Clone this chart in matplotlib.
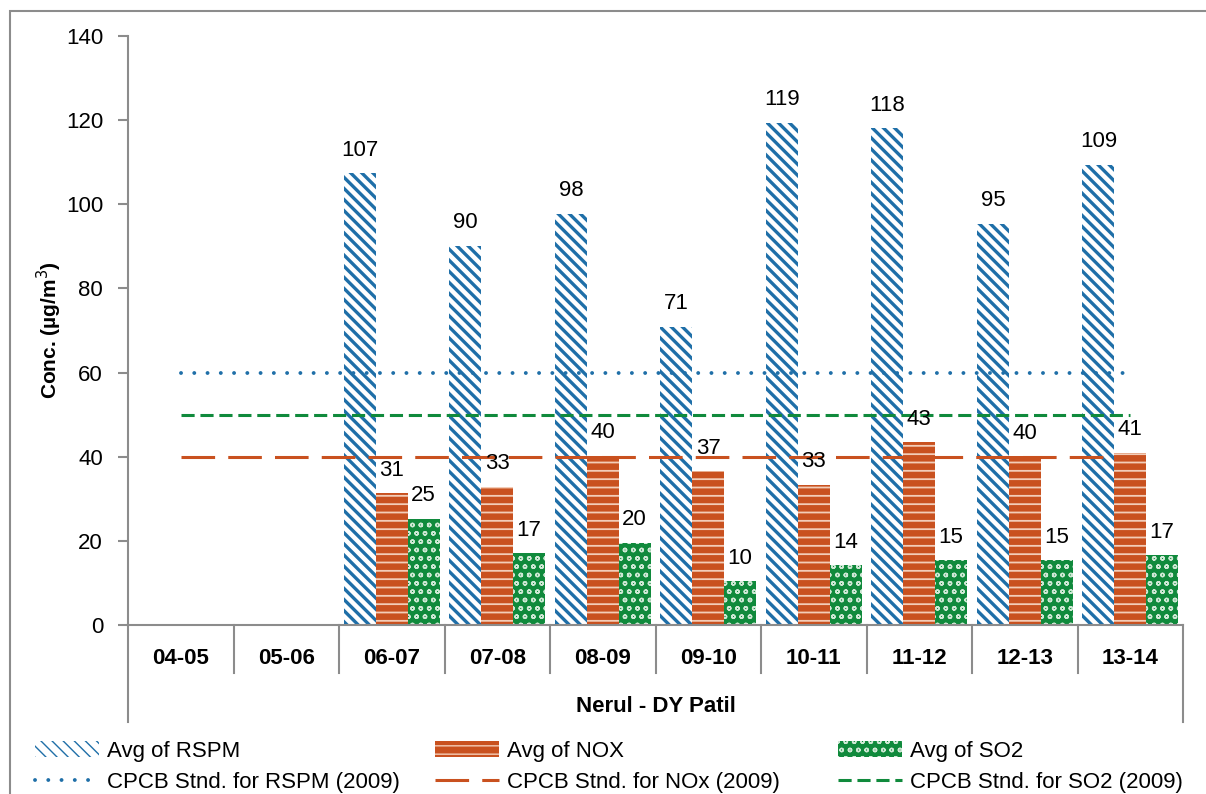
import numpy as np
import matplotlib
matplotlib.use("Agg")
import matplotlib.pyplot as plt
from matplotlib import font_manager
from matplotlib.patches import Rectangle
from matplotlib.transforms import blended_transform_factory

# data
years = ["04-05", "05-06", "06-07", "07-08", "08-09", "09-10", "10-11", "11-12", "12-13", "13-14"]
rspm = [np.nan, np.nan, 107.4, 90.2, 97.7, 70.9, 119.4, 118.1, 95.4, 109.4]
nox = [np.nan, np.nan, 31.3, 32.9, 40.2, 36.6, 33.3, 43.4, 40.1, 41.0]
so2 = [np.nan, np.nan, 25.2, 17.1, 19.6, 10.4, 14.2, 15.4, 15.4, 16.6]
std_rspm = 60
std_nox = 40
std_so2 = 50
station = "Nerul - DY Patil"

names = {f.name for f in font_manager.fontManager.ttflist}
fam = "Liberation Sans Narrow" if "Liberation Sans Narrow" in names else "Liberation Sans"
plt.rcParams["font.family"] = [fam, "DejaVu Sans"]

BLUE = "#1f6fa8"
ORANGE = "#c9511f"
GREEN = "#108a3c"
GRAY = "#8c8c8c"

fig = plt.figure(figsize=(12.06, 7.94), dpi=100)
ax = fig.add_axes([128 / 1206, 1 - 625 / 794, 1055 / 1206, 589 / 794])

x = np.arange(len(years))
w = 0.302


def set_hl(bars, lw):
    for b in bars:
        if hasattr(b, "set_hatch_linewidth"):
            b.set_hatch_linewidth(lw)


plt.rcParams["hatch.linewidth"] = 2.4
b1 = ax.bar(x - w, rspm, w, facecolor="white", edgecolor=BLUE, hatch="\\\\\\", linewidth=0,
            label="Avg of RSPM")
set_hl(b1, 2.4)
plt.rcParams["hatch.linewidth"] = 1.3
b2 = ax.bar(x, nox, w, facecolor=ORANGE, edgecolor="#f3cdb8", hatch="--", linewidth=0,
            label="Avg of NOX")
set_hl(b2, 1.3)
plt.rcParams["hatch.linewidth"] = 1.0
b3 = ax.bar(x + w, so2, w, facecolor=GREEN, edgecolor="#cfe8d5", hatch="oo", linewidth=0,
            label="Avg of SO2")
set_hl(b3, 1.0)

for vals, off in [(rspm, -w), (nox, 0), (so2, w)]:
    for xi, v in zip(x, vals):
        if np.isnan(v):
            continue
        ax.annotate(f"{v:.0f}", (xi + off, v), xytext=(0, 9), textcoords="offset points",
                    ha="center", va="bottom", fontsize=16)

l1, = ax.plot([x[0], x[-1]], [std_rspm] * 2, color=BLUE, lw=2.8, linestyle=(0, (0.01, 3.4)),
              dash_capstyle="round", label="CPCB Stnd. for RSPM (2009)")
l2, = ax.plot([x[0], x[-1]], [std_nox] * 2, color=ORANGE, lw=2.2, linestyle=(0, (11, 4.3)),
              label="CPCB Stnd. for NOx (2009)")
l3, = ax.plot([x[0], x[-1]], [std_so2] * 2, color=GREEN, lw=2.2, linestyle=(0, (4.3, 1.9)),
              label="CPCB Stnd. for SO2 (2009)")

ax.set_xlim(-0.5, len(years) - 0.5)
ax.set_ylim(0, 140)
ax.set_yticks(range(0, 141, 20))
ax.tick_params(axis="y", length=7, width=1.5, color=GRAY, labelsize=16, pad=11)
ax.set_xticks([])
for s in ["top", "right"]:
    ax.spines[s].set_visible(False)
for s in ["left", "bottom"]:
    ax.spines[s].set_color(GRAY)
    ax.spines[s].set_linewidth(1.5)

ax.set_ylabel("Conc. (µg/m$^3$)", fontsize=15, fontweight="bold")
ax.yaxis.set_label_coords(-64 / 1055, 0.5)

# category table under the axis
tr = blended_transform_factory(ax.transData, ax.transAxes)
for b in np.arange(0.5, len(years) - 1, 1.0):
    ax.plot([b, b], [0, -48 / 589], transform=tr, color=GRAY, lw=1.5, clip_on=False)
for b in [-0.5, len(years) - 0.5]:
    ax.plot([b, b], [0, -97 / 589], transform=tr, color=GRAY, lw=1.5, clip_on=False)
for xi, lab in zip(x, years):
    ax.text(xi, -33 / 589, lab, transform=tr, ha="center", va="center", fontsize=16,
            fontweight="bold")
ax.text(0.5, -82 / 589, station, transform=ax.transAxes, ha="center", va="center",
        fontsize=16, fontweight="bold")

# legend laid out in three equal columns like the reference
for hs, lx in [((b1, l1), 35), ((b2, l2), 435), ((b3, l3), 838)]:
    fig.legend(handles=list(hs), loc="upper left", bbox_to_anchor=(lx / 1206, 1 - 741 / 794),
               frameon=False, fontsize=16, handlelength=2.9, handleheight=0.7,
               handletextpad=0.35, labelspacing=0.45, borderpad=0, borderaxespad=0)

fig.add_artist(Rectangle((10 / 1206, -0.1), 1.2, 1.1 - 11 / 794, transform=fig.transFigure,
                         fill=False, edgecolor=GRAY, lw=1.5))

fig.savefig("out.png", dpi=100)
